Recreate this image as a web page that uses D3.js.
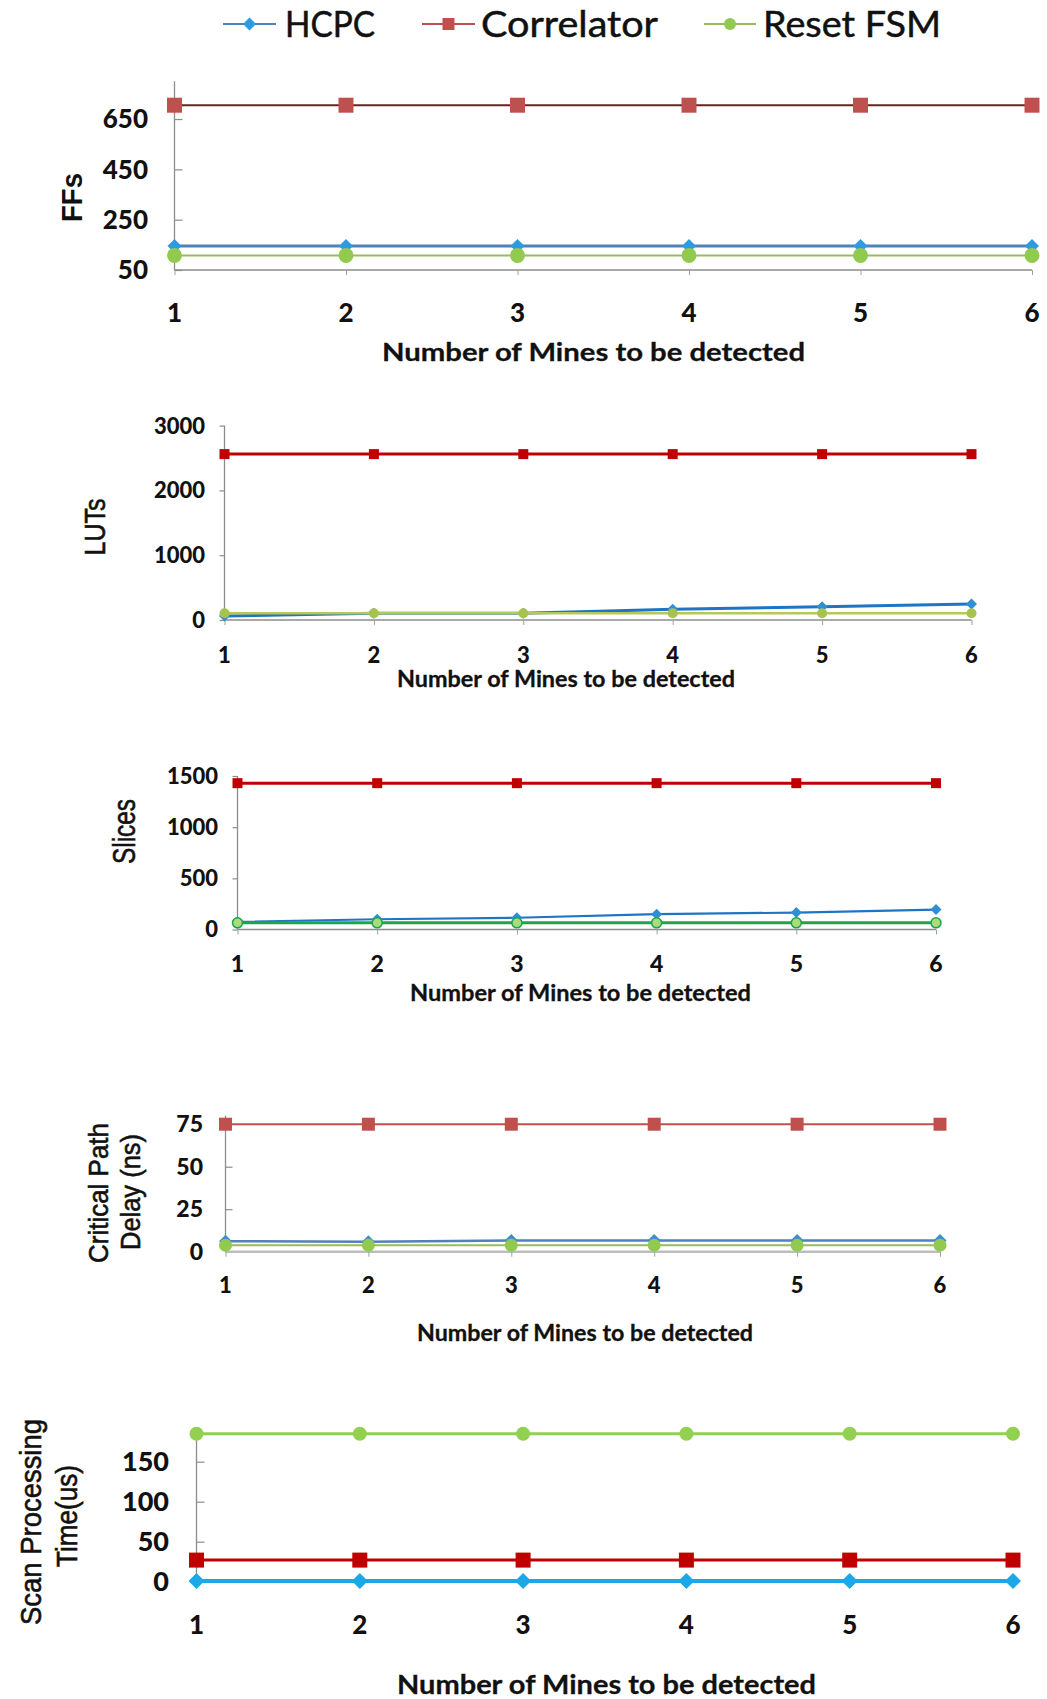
<!DOCTYPE html>
<html>
<head>
<meta charset="utf-8">
<script src="https://cdn.jsdelivr.net/npm/d3@7"></script>
<style>
  html, body { margin: 0; padding: 0; background: #fff; }
  svg { display: block; }
</style>
</head>
<body>
<svg id="chart" width="1047" height="1699"></svg>
<script>
// Categories shared by every panel
const mines = [1, 2, 3, 4, 5, 6];
const seriesNames = ["HCPC", "Correlator", "Reset FSM"];

// Flip-flops
const ffHCPC = [145, 145, 145, 145, 145, 145];
const ffCorrelator = [705, 705, 705, 705, 705, 705];
const ffReset = [108, 108, 108, 108, 108, 108];
const ffTicks = [50, 250, 450, 650];

// Look-up tables
const lutHCPC = [62, 103, 103, 165, 205, 245];
const lutCorrelator = [2560, 2560, 2560, 2560, 2560, 2560];
const lutReset = [105, 105, 105, 105, 105, 105];
const lutTicks = [0, 1000, 2000, 3000];

// Slices
const sliceHCPC = [75, 100, 115, 150, 165, 195];
const sliceCorrelator = [1430, 1430, 1430, 1430, 1430, 1430];
const sliceReset = [65, 65, 65, 65, 65, 65];
const sliceTicks = [0, 500, 1000, 1500];

// Critical path delay (ns)
const delayHCPC = [6.2, 5.9, 6.6, 6.6, 6.6, 6.6];
const delayCorrelator = [75, 75, 75, 75, 75, 75];
const delayReset = [3.8, 3.8, 3.8, 3.8, 3.8, 3.8];
const delayTicks = [0, 25, 50, 75];

// Scan processing time (us)
const scanHCPC = [1, 1, 1, 1, 1, 1];
const scanCorrelator = [27, 27, 27, 27, 27, 27];
const scanReset = [185, 185, 185, 185, 185, 185];
const scanTicks = [0, 50, 100, 150];

const xTitle = "Number of Mines to be detected";

const svg = d3.select("#chart");
const NUM_FONT = "Lato, 'Liberation Sans', sans-serif";
const LABEL_FONT = "'Liberation Sans', Arial, sans-serif";

// marker path generators
function markerPath(shape, size) {
  if (shape === "diamond") {
    const s = size / Math.SQRT2;
    return { d: d3.symbol(d3.symbolSquare, s * s)(), rot: 45 };
  }
  if (shape === "square") return { d: d3.symbol(d3.symbolSquare, size * size)(), rot: 0 };
  return { d: d3.symbol(d3.symbolCircle, Math.PI * size * size / 4)(), rot: 0 };
}

// ---- legend ----
const legendItems = [
  { name: seriesNames[0], line: "#4f81bd", fill: "#2e9be0", shape: "diamond", x0: 223, x1: 276, tx: 285, tw: 90 },
  { name: seriesNames[1], line: "#c0504d", fill: "#c0504d", shape: "square", x0: 422, x1: 475, tx: 481, tw: 177 },
  { name: seriesNames[2], line: "#9bbb59", fill: "#92c94f", shape: "circle", x0: 704, x1: 756, tx: 763, tw: 178 }
];
const legend = svg.append("g");
legendItems.forEach(it => {
  legend.append("line").attr("x1", it.x0).attr("x2", it.x1).attr("y1", 24).attr("y2", 24)
    .attr("stroke", it.line).attr("stroke-width", 2);
  const m = markerPath(it.shape, it.shape === "diamond" ? 13 : 12);
  legend.append("path").attr("d", m.d)
    .attr("transform", `translate(${(it.x0 + it.x1) / 2},24) rotate(${m.rot})`)
    .attr("fill", it.fill);
  legend.append("text").attr("x", it.tx).attr("y", 37)
    .attr("font-family", NUM_FONT).attr("font-size", 36).attr("fill", "#111")
    .attr("stroke", "#111").attr("stroke-width", 0.5)
    .attr("textLength", it.tw).attr("lengthAdjust", "spacingAndGlyphs")
    .text(it.name);
});

// ---- panel drawing ----
function drawPanel(cfg) {
  const g = svg.append("g");
  const x = d3.scalePoint().domain(mines).range([cfg.x0, cfg.x1]);
  const y = d3.scaleLinear().domain(cfg.domain).range(cfg.yRange);

  // y axis
  const yAxis = (cfg.tickSide === "in" ? d3.axisRight(y) : d3.axisLeft(y))
    .tickValues(cfg.ticks).tickSize(cfg.tickLen).tickFormat("");
  const ya = g.append("g").attr("transform", `translate(${cfg.x0},0)`).call(yAxis);
  ya.select(".domain").attr("stroke", "#8c8c8c").attr("stroke-width", 1.3)
    .attr("d", `M0,${y(cfg.domain[0])}V${y(cfg.domain[1])}`);
  ya.selectAll(".tick line").attr("stroke", "#8c8c8c").attr("stroke-width", 1.2);

  // y tick labels
  g.append("g").selectAll("text").data(cfg.ticks).join("text")
    .attr("x", cfg.labelRight).attr("y", d => y(d) + cfg.tickFont * 0.36)
    .attr("text-anchor", "end").attr("font-family", NUM_FONT).attr("font-weight", "900")
    .attr("font-size", cfg.tickFont).attr("fill", "#111").text(d => d);

  // x axis
  const xAxis = d3.axisBottom(x).tickSize(5).tickFormat("");
  const xa = g.append("g").attr("transform", `translate(0,${y(cfg.domain[0])})`).call(xAxis);
  xa.select(".domain").attr("stroke", cfg.xAxisColor || "#8c8c8c")
    .attr("stroke-width", cfg.xAxisWidth || 1.3).attr("d", `M${cfg.x0},0H${cfg.x1}`);
  xa.selectAll(".tick line").attr("stroke", "#a0a0a0").attr("stroke-width", 1);

  // x tick labels
  g.append("g").selectAll("text").data(mines).join("text")
    .attr("x", d => x(d)).attr("y", cfg.xTickCenter + cfg.xTickFont * 0.36)
    .attr("text-anchor", "middle").attr("font-family", NUM_FONT).attr("font-weight", "900")
    .attr("font-size", cfg.xTickFont).attr("fill", "#111").text(d => d);

  // x title
  g.append("text").attr("x", cfg.titleX).attr("y", cfg.titleY)
    .attr("text-anchor", "middle").attr("font-family", NUM_FONT).attr("font-weight", "bold")
    .attr("font-size", cfg.titleFont).attr("fill", "#111")
    .attr("stroke", "#111").attr("stroke-width", 0.3)
    .attr("textLength", cfg.titleWidth).attr("lengthAdjust", "spacingAndGlyphs")
    .text(xTitle);

  // y title (rotated, one or more lines)
  cfg.yLabel.forEach(l => {
    g.append("text").attr("transform", `translate(${l.x},${l.cy}) rotate(-90)`)
      .attr("text-anchor", "middle").attr("font-family", LABEL_FONT)
      .attr("font-weight", l.bold ? "bold" : "normal")
      .attr("font-size", l.size).attr("fill", "#111")
      .attr("stroke", "#111").attr("stroke-width", l.bold ? 0 : 0.6)
      .attr("textLength", l.len).attr("lengthAdjust", "spacingAndGlyphs")
      .text(l.text);
  });

  // series
  const line = d3.line().x((d, i) => x(mines[i])).y(d => y(d));
  cfg.series.forEach(s => {
    g.append("path").datum(s.values).attr("d", line)
      .attr("fill", "none").attr("stroke", s.line).attr("stroke-width", s.width);
    const m = markerPath(s.shape, s.size);
    g.append("g").selectAll("path").data(s.values).join("path")
      .attr("d", m.d)
      .attr("transform", (d, i) => `translate(${x(mines[i])},${y(d)}) rotate(${m.rot})`)
      .attr("fill", s.fill)
      .attr("stroke", s.stroke || "none").attr("stroke-width", s.stroke ? 1.5 : 0);
  });
}

// Panel 1: FFs
drawPanel({
  x0: 174.5, x1: 1032, domain: [50, 800], yRange: [270, 81.3],
  ticks: ffTicks, tickSide: "in", tickLen: 8, tickFont: 26, labelRight: 148,
  xTickCenter: 313, xTickFont: 26,
  titleX: 593.5, titleY: 361, titleFont: 25, titleWidth: 423,
  yLabel: [{ text: "FFs", x: 82, cy: 197.5, size: 29, len: 49, bold: true }],
  series: [
    { values: ffHCPC, line: "#4f81bd", width: 3, fill: "#2e9be0", shape: "diamond", size: 14 },
    { values: ffCorrelator, line: "#6a2222", width: 2, fill: "#c0504d", shape: "square", size: 15 },
    { values: ffReset, line: "#9bbb59", width: 2, fill: "#92c94f", shape: "circle", size: 15 }
  ]
});

// Panel 2: LUTs
drawPanel({
  x0: 224.5, x1: 971.5, domain: [0, 3000], yRange: [620, 425.6],
  ticks: lutTicks, tickSide: "out", tickLen: 5, tickFont: 22, labelRight: 205,
  xTickCenter: 655, xTickFont: 22,
  titleX: 566, titleY: 687, titleFont: 22, titleWidth: 338,
  yLabel: [{ text: "LUTs", x: 105, cy: 527, size: 30, len: 57 }],
  series: [
    { values: lutHCPC, line: "#1f74c4", width: 3, fill: "#2e8fd8", shape: "diamond", size: 11 },
    { values: lutCorrelator, line: "#c00000", width: 3, fill: "#c00000", shape: "square", size: 10 },
    { values: lutReset, line: "#b5c95a", width: 2.5, fill: "#a6c24f", shape: "circle", size: 10 }
  ]
});

// Panel 3: Slices
drawPanel({
  x0: 237.5, x1: 936, domain: [0, 1500], yRange: [929.5, 776],
  ticks: sliceTicks, tickSide: "out", tickLen: 5, tickFont: 22, labelRight: 218,
  xTickCenter: 964, xTickFont: 23,
  titleX: 580.5, titleY: 1000.5, titleFont: 22, titleWidth: 341,
  yLabel: [{ text: "Slices", x: 135, cy: 831.5, size: 32, len: 65 }],
  series: [
    { values: sliceHCPC, line: "#1f74c4", width: 2.2, fill: "#2e8fd8", shape: "diamond", size: 11 },
    { values: sliceCorrelator, line: "#c00000", width: 3, fill: "#c00000", shape: "square", size: 10 },
    { values: sliceReset, line: "#1fa34f", width: 3, fill: "#a9dc7a", stroke: "#1fa34f", shape: "circle", size: 10 }
  ]
});

// Panel 4: critical path delay
drawPanel({
  x0: 225.5, x1: 940, domain: [0, 80], yRange: [1251.7, 1115.7],
  ticks: delayTicks, tickSide: "in", tickLen: 7, tickFont: 23, labelRight: 203,
  xTickCenter: 1285, xTickFont: 22,
  titleX: 585, titleY: 1340.5, titleFont: 22, titleWidth: 336,
  xAxisColor: "#bdbdbd", xAxisWidth: 2.5,
  yLabel: [
    { text: "Critical Path", x: 108, cy: 1193, size: 28, len: 140 },
    { text: "Delay (ns)", x: 140, cy: 1192, size: 28, len: 116 }
  ],
  series: [
    { values: delayHCPC, line: "#4f81bd", width: 2.5, fill: "#3c8fd0", shape: "diamond", size: 13 },
    { values: delayCorrelator, line: "#c0504d", width: 2, fill: "#c0504d", shape: "square", size: 13 },
    { values: delayReset, line: "#9bbb59", width: 2, fill: "#92c94f", shape: "circle", size: 13 }
  ]
});

// Panel 5: scan processing time
drawPanel({
  x0: 196.5, x1: 1013, domain: [0, 185], yRange: [1581.7, 1433.7],
  ticks: scanTicks, tickSide: "in", tickLen: 8, tickFont: 27, labelRight: 169,
  xTickCenter: 1625, xTickFont: 26,
  titleX: 606.5, titleY: 1694, titleFont: 27, titleWidth: 419,
  yLabel: [
    { text: "Scan Processing", x: 41, cy: 1522, size: 30, len: 206 },
    { text: "Time(us)", x: 77, cy: 1516, size: 29, len: 102 }
  ],
  series: [
    { values: scanHCPC, line: "#1aa8e8", width: 4, fill: "#1aa8e8", shape: "diamond", size: 16 },
    { values: scanCorrelator, line: "#c00000", width: 3, fill: "#c00000", shape: "square", size: 15 },
    { values: scanReset, line: "#92d050", width: 3, fill: "#92d050", shape: "circle", size: 14 }
  ]
});
</script>
</body>
</html>
